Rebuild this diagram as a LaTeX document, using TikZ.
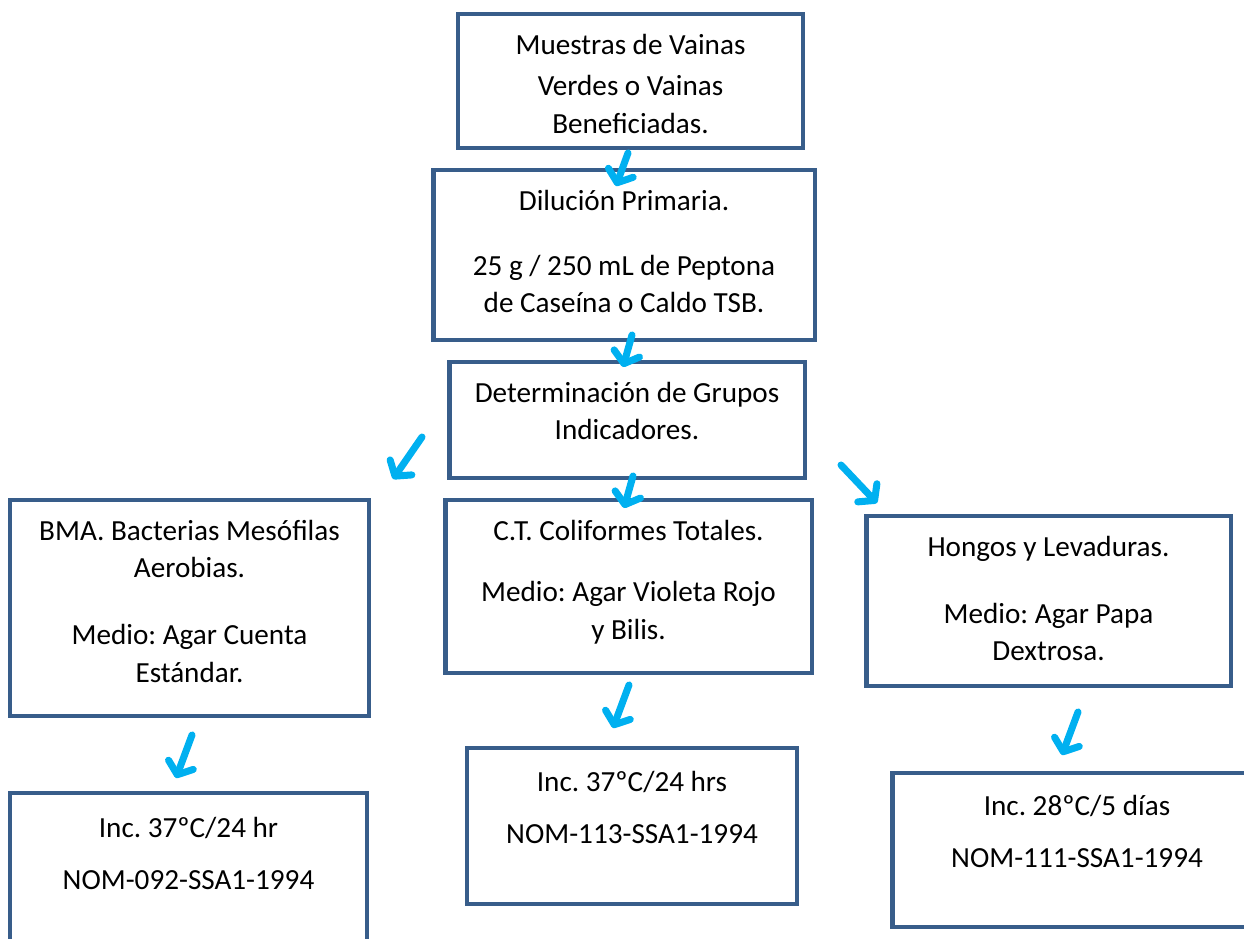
\documentclass[tikz,border=0pt]{standalone}
\usepackage{fontspec}
\setmainfont{Carlito}
\usepackage{tikz}
\usetikzlibrary{arrows.meta,positioning}
\definecolor{marco}{RGB}{56,93,138}
\definecolor{celeste}{RGB}{0,176,240}
\newcommand{\caja}[3]{\parbox[c][#2][t]{#1}{\centering\frenchspacing\fontsize{16.6pt}{21.3pt}\selectfont\rule{0pt}{0.8cm}#3}}
\begin{document}
\begin{tikzpicture}[x=0.02cm,y=-0.02cm,
    proc/.style={draw=marco,line width=2.8pt,inner sep=0pt,rectangle},
    flecha/.style={draw=celeste,line width=4pt,line cap=round,
      -{Straight Barb[length=6pt,width=15pt,line cap=round,line join=round]}}]
   \useasboundingbox (0,0) rectangle (1244,939);
   \clip (0,0) rectangle (1244,939);

   \node[proc] (mue)  at (630.5,81)  {\caja{6.9cm}{2.68cm}{Muestras de Vainas\\[0.09cm] Verdes o Vainas\\ Beneficiadas.}};
   \node[proc] (dil)  at (624,255)   {\caja{7.64cm}{3.4cm}{Dilución Primaria.\\[0.56cm] 25 g / 250 mL de Peptona\\ de Caseína o Caldo TSB.}};
   \node[proc] (det)  at (627,420)   {\caja{7.12cm}{2.32cm}{Determinación de Grupos\\ Indicadores.}};
   \node[proc] (bma)  at (189.5,608) {\caja{7.18cm}{4.32cm}{BMA. Bacterias Mesófilas\\ Aerobias.\\[0.6cm] Medio: Agar Cuenta\\ Estándar.}};
   \node[proc] (cot)  at (628.5,586.5) {\caja{7.34cm}{3.46cm}{\vspace*{-0.05cm}C.T. Coliformes Totales.\\[0.54cm] Medio: Agar Violeta Rojo\\ y Bilis.}};
   \node[proc] (hyl)  at (1048.5,601) {\caja{7.3cm}{3.4cm}{Hongos y Levaduras.\\[0.6cm] Medio: Agar Papa\\ Dextrosa.}};
   \node[proc] (incb) at (188.5,891.5) {\caja{7.14cm}{3.94cm}{\rule{0pt}{0.88cm}Inc. 37ºC/24 hr\\[0.3cm] NOM-092-SSA1-1994}};
   \node[proc] (incc) at (632,826)   {\caja{6.6cm}{3.12cm}{\rule{0pt}{0.86cm}Inc. 37ºC/24 hrs\\[0.3cm] NOM-113-SSA1-1994}};
   \node[proc] (inch) at (1077,850)  {\caja{7.4cm}{3.08cm}{\rule{0pt}{0.84cm}Inc. 28ºC/5 días\\[0.3cm] NOM-111-SSA1-1994}};

   % flechas sueltas entre cajas
   \coordinate (a1) at (628,153);  \coordinate (b1) at (616,186);
   \coordinate (a2) at (632,335);  \coordinate (b2) at (623,367);
   \coordinate (a3) at (422,437);  \coordinate (b3) at (393,479);
   \coordinate (a4) at (633,476);  \coordinate (b4) at (624,508);
   \coordinate (a5) at (841,465);  \coordinate (b5) at (877,503);
   \coordinate (a6) at (629,685);  \coordinate (b6) at (613,728);
   \coordinate (a7) at (192,735);  \coordinate (b7) at (176,778);
   \coordinate (a8) at (1078,712); \coordinate (b8) at (1062,755);
   \foreach \i in {1,...,8}
      \draw[flecha] (a\i) -- (b\i);
\end{tikzpicture}
\end{document}
